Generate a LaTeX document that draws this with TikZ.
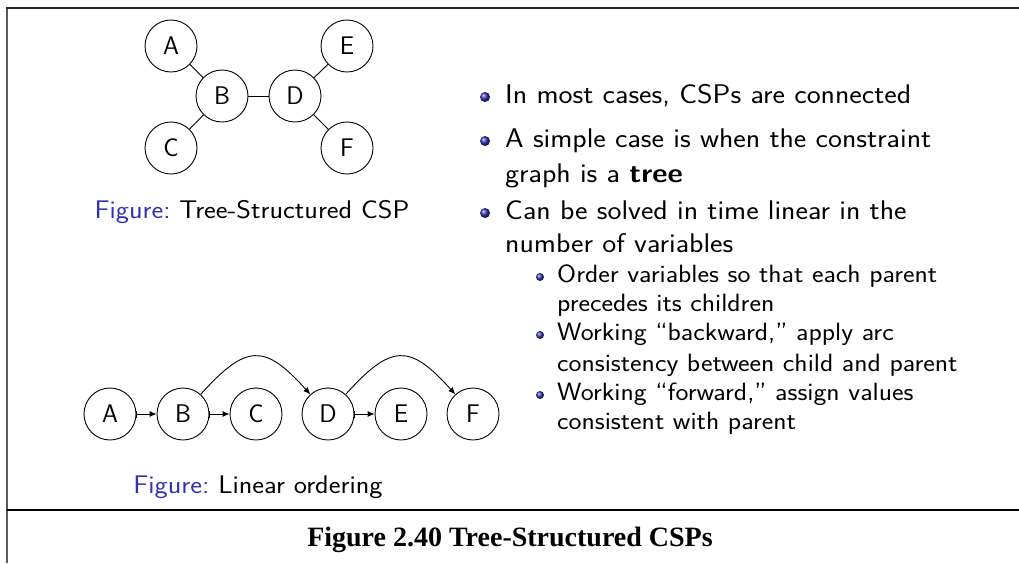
\documentclass[tikz,border=0pt]{standalone}
\usepackage{fontspec}
\setmainfont{Liberation Serif}
\newfontfamily\slidesf{Latin Modern Sans}[FakeStretch=1.1,Ligatures=TeX]
\usetikzlibrary{arrows.meta}
\definecolor{structblue}{RGB}{51,51,178}
\newcommand{\mainsz}{\slidesf\fontsize{27}{32}\selectfont}
\newcommand{\subsz}{\slidesf\fontsize{25}{30}\selectfont}
\newcommand{\captsz}{\slidesf\fontsize{25.5}{30}\selectfont}
\newcommand{\nodesz}{\sffamily\fontsize{25.5}{30}\selectfont}
\begin{document}
\begin{tikzpicture}[x=1pt,y=-1pt,
  vtx/.style={circle,draw,line width=0.9pt,minimum size=52pt,inner sep=0pt,font=\nodesz},
  tedge/.style={line width=0.9pt},
  sarrow/.style={line width=0.9pt,{Bar[width=7pt,line width=0.9pt]}-{Latex[length=7pt,width=6pt]}},
  carrow/.style={line width=0.9pt,-{Latex[length=7pt,width=6pt]}},
  txt/.style={anchor=base west,inner sep=0pt,font=\mainsz},
  subtxt/.style={anchor=base west,inner sep=0pt,font=\subsz},
  capt/.style={anchor=base,inner sep=0pt,font=\captsz},
  mbul/.style={ball color=structblue},
]
\useasboundingbox (0,0) rectangle (1019,563);
% frame
\draw[line width=2.2pt, black!65] (7,8) -- (7,563);
\draw[line width=2pt, black!85] (6,8) -- (1019,8);
\draw[line width=2pt] (7,510) -- (1019,510);

% tree graph
\node[vtx] (tA) at (171,46) {A};
\node[vtx] (tB) at (222,96) {B};
\node[vtx] (tC) at (171,148) {C};
\node[vtx] (tD) at (295,96) {D};
\node[vtx] (tE) at (347,46) {E};
\node[vtx] (tF) at (347,148) {F};
\draw[tedge] (tA) -- (tB);
\draw[tedge] (tC) -- (tB);
\draw[tedge] (tB) -- (tD);
\draw[tedge] (tD) -- (tE);
\draw[tedge] (tD) -- (tF);
\node[capt] (cap1) at (252,218) {\textcolor{structblue}{Figure:}\ Tree-Structured CSP};

% linear ordering
\node[vtx] (lA) at (110,414) {A};
\node[vtx] (lB) at (183,414) {B};
\node[vtx] (lC) at (256,414) {C};
\node[vtx] (lD) at (328,414) {D};
\node[vtx] (lE) at (401,414) {E};
\node[vtx] (lF) at (473,414) {F};
\draw[sarrow] (lA) -- (lB);
\draw[sarrow] (lB) -- (lC);
\draw[sarrow] (lD) -- (lE);
\draw[carrow] (lB.48) to[out=48,in=132,looseness=1.6] (lD.132);
\draw[carrow] (lD.48) to[out=48,in=132,looseness=1.6] (lF.132);
\node[capt] (cap2) at (258,493) {\textcolor{structblue}{Figure:}\ Linear ordering};

% bullets
\shade[mbul] (485,97) circle (5);
\node[txt] (b1) at (505,103) {In most cases, CSPs are connected};
\shade[mbul] (485,141) circle (5);
\node[txt] (b2a) at (505,147) {A simple case is when the constraint};
\node[txt] (b2b) at (505,182) {graph is a \textbf{tree}};
\shade[mbul] (485,213) circle (5);
\node[txt] (b3a) at (505,219) {Can be solved in time linear in the};
\node[txt] (b3b) at (505,252) {number of variables};
\shade[mbul] (540,277) circle (4);
\node[subtxt] (s1a) at (557,282) {Order variables so that each parent};
\node[subtxt] (s1b) at (557,311) {precedes its children};
\shade[mbul] (540,335) circle (4);
\node[subtxt] (s2a) at (557,340) {Working “backward,” apply arc};
\node[subtxt] (s2b) at (557,371) {consistency between child and parent};
\shade[mbul] (540,395) circle (4);
\node[subtxt] (s3a) at (557,400) {Working “forward,” assign values};
\node[subtxt] (s3b) at (557,429) {consistent with parent};

% caption
\node[anchor=base,inner sep=0pt,font=\bfseries\fontsize{28}{32}\selectfont] (fig) at (510,546) {Figure 2.40 Tree-Structured CSPs};
\end{tikzpicture}
\end{document}
